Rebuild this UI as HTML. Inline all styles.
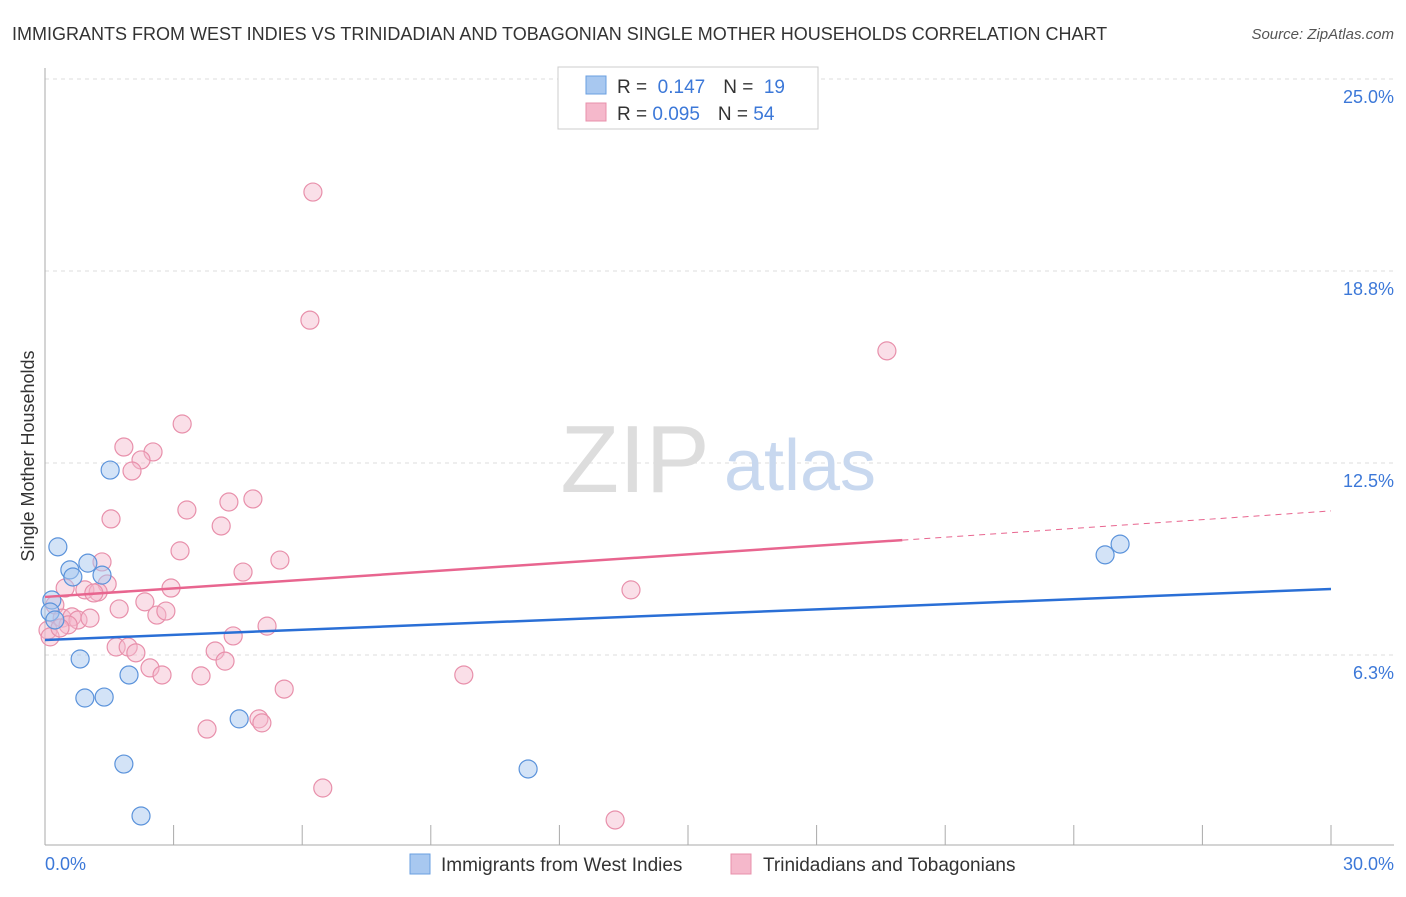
<!DOCTYPE html>
<html><head><meta charset="utf-8"><style>
body{margin:0;background:#fff;font-family:"Liberation Sans",sans-serif;}
svg text{font-family:"Liberation Sans",sans-serif;}
</style></head><body>
<svg id="c" width="1406" height="892" viewBox="0 0 1406 892" xmlns="http://www.w3.org/2000/svg">
<text x="12" y="40" font-size="18" fill="#333">IMMIGRANTS FROM WEST INDIES VS TRINIDADIAN AND TOBAGONIAN SINGLE MOTHER HOUSEHOLDS CORRELATION CHART</text>
<text x="1394" y="39" font-size="15" fill="#555" font-style="italic" text-anchor="end">Source: ZipAtlas.com</text>
<g id="grid"></g>
<text x="635" y="492" font-size="96" fill="#ddd" font-family="Liberation Serif" text-anchor="middle">ZIP</text>
<text x="800" y="490" font-size="72" fill="#c8d8ef" text-anchor="middle">atlas</text>
<g id="marks"></g>
<text transform="translate(34,456) rotate(-90)" font-size="18" fill="#333" text-anchor="middle">Single Mother Households</text>
<text x="45" y="870" font-size="18" fill="#3c78d8">0.0%</text>
<text x="1394" y="870" font-size="18" fill="#3c78d8" text-anchor="end">30.0%</text>
<g>
<rect x="558" y="67" width="260" height="62" fill="#fff" stroke="#ccc"/>
<rect x="586" y="76" width="20" height="18" fill="#a8c8f0" stroke="#6a9fe0"/>
<rect x="586" y="103" width="20" height="18" fill="#f5b8cb" stroke="#e890ab"/>
<text x="617" y="93" font-size="19" fill="#333">R = <tspan fill="#3c78d8">&#160;0.147</tspan><tspan dx="18" fill="#333">N = </tspan><tspan fill="#3c78d8">&#160;19</tspan></text>
<text x="617" y="120" font-size="19" fill="#333">R = <tspan fill="#3c78d8">0.095</tspan><tspan dx="18" fill="#333">N = </tspan><tspan fill="#3c78d8">54</tspan></text>
</g>
<g>
<rect x="410" y="854" width="20" height="20" fill="#a8c8f0" stroke="#6a9fe0"/>
<text x="441" y="871" font-size="19" fill="#333">Immigrants from West Indies</text>
<rect x="731" y="854" width="20" height="20" fill="#f5b8cb" stroke="#e890ab"/>
<text x="763" y="871" font-size="19" fill="#333">Trinidadians and Tobagonians</text>
</g>
</svg>
<script>
const yTicks=[6.25,12.5,18.75,25];
const yTickLabels=["6.3%","12.5%","18.8%","25.0%"];
const xTicks=[0,3,6,9,12,15,18,21,24,27,30];
const blueX=[0.16,0.12,0.30,0.58,0.65,1.00,1.33,1.52,0.82,0.93,1.38,1.96,1.84,2.24,4.53,11.27,24.73,25.08,0.23];
const blueY=[8.04,7.65,9.77,9.02,8.79,9.24,8.85,12.27,6.12,4.85,4.88,5.60,2.70,1.01,4.17,2.54,9.51,9.86,7.39];
const pinkX=[6.25,6.18,19.64,3.20,1.84,2.52,2.24,2.03,1.54,3.31,4.29,4.85,4.11,3.15,5.48,4.62,2.94,1.33,1.45,0.47,0.93,1.24,1.14,1.73,2.33,2.61,2.82,0.23,0.40,0.63,0.77,0.54,0.07,0.12,5.18,4.39,1.66,1.94,2.12,3.97,4.20,2.45,2.73,3.64,5.58,4.99,5.06,3.78,6.48,13.30,13.67,9.77,0.35,1.05];
const pinkY=[21.32,17.15,16.15,13.77,13.02,12.86,12.60,12.24,10.68,10.97,11.23,11.33,10.45,9.64,9.34,8.95,8.43,9.28,8.56,8.43,8.37,8.30,8.27,7.75,7.98,7.55,7.68,7.88,7.45,7.49,7.39,7.23,7.06,6.84,7.19,6.87,6.51,6.51,6.32,6.38,6.05,5.83,5.60,5.57,5.14,4.17,4.04,3.84,1.92,0.88,8.37,5.60,7.13,7.45];
const blueTrend=[[0,6.74],[30,8.40]];
const pinkTrend=[[0,8.14],[20,9.99]];
const pinkTrendExt=[[20,9.99],[30,10.94]];
const X=v=>45+v/30*1286;
const Y=v=>847-v*30.72;
const NS="http://www.w3.org/2000/svg";
function mk(parent,tag,attrs){const e=document.createElementNS(NS,tag);for(const k in attrs)e.setAttribute(k,attrs[k]);parent.appendChild(e);return e;}
const grid=document.getElementById('grid');
yTicks.forEach((t,i)=>{
 const l=mk(grid,'line',{x1:45,x2:1394,y1:Y(t),y2:Y(t),stroke:'#ddd','stroke-dasharray':'4,4'});
 
 
 const tx=mk(grid,'text',{x:1394,y:Y(t)+24,'font-size':18,fill:'#3c78d8','text-anchor':'end'});
 tx.textContent=yTickLabels[i];
 
 
});
const ax=mk(grid,'line',{x1:45,x2:45,y1:68,y2:845,stroke:'#aaa'});


const bx=mk(grid,'line',{x1:45,x2:1394,y1:845,y2:845,stroke:'#aaa'});


xTicks.forEach(t=>{
 const l=mk(grid,'line',{x1:X(t),x2:X(t),y1:825,y2:845,stroke:'#aaa'});
 
 
});
const marks=document.getElementById('marks');
pinkX.forEach((x,i)=>{
 const c=mk(marks,'circle',{cx:X(x),cy:Y(pinkY[i]),r:9,fill:'#f5b8cb','fill-opacity':0.45,stroke:'#e890ab','stroke-width':1.2});
 
 
});
blueX.forEach((x,i)=>{
 const c=mk(marks,'circle',{cx:X(x),cy:Y(blueY[i]),r:9,fill:'#a8c8f0','fill-opacity':0.5,stroke:'#5b93db','stroke-width':1.2});
 
 
});
const bl=mk(marks,'line',{x1:X(blueTrend[0][0]),y1:Y(blueTrend[0][1]),x2:X(blueTrend[1][0]),y2:Y(blueTrend[1][1]),stroke:'#2a6fd6','stroke-width':2.5});


const pl=mk(marks,'line',{x1:X(pinkTrend[0][0]),y1:Y(pinkTrend[0][1]),x2:X(pinkTrend[1][0]),y2:Y(pinkTrend[1][1]),stroke:'#e8658f','stroke-width':2.5});


const pe=mk(marks,'line',{x1:X(pinkTrendExt[0][0]),y1:Y(pinkTrendExt[0][1]),x2:X(pinkTrendExt[1][0]),y2:Y(pinkTrendExt[1][1]),stroke:'#e8658f','stroke-width':1,'stroke-dasharray':'6,5'});


</script>
</body></html>
